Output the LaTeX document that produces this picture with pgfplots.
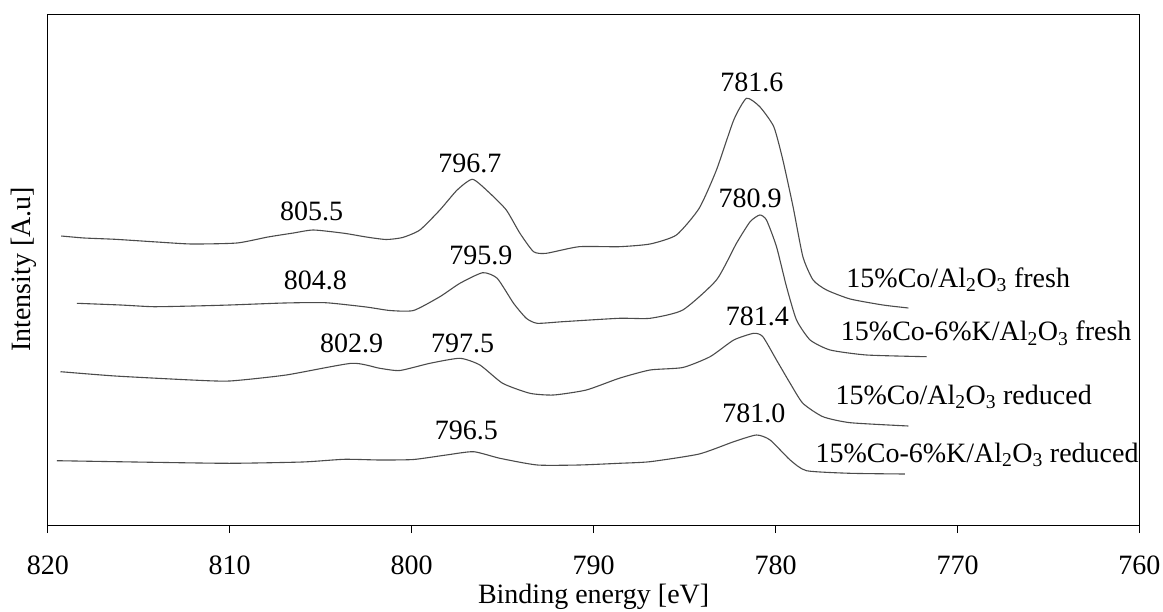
\documentclass[border=0pt]{standalone}
\usepackage{fontspec}
\setmainfont{Liberation Serif}
\usepackage{pgfplots}
\pgfplotsset{compat=1.18}
\newcommand{\bigf}{\fontsize{28pt}{33pt}\selectfont}
\definecolor{curve}{RGB}{75,75,75}
\pgfplotsset{spec/.style={curve, line width=1.1pt, smooth, tension=0.35, mark=none}}
\begin{document}
\begin{tikzpicture}[font=\bigf]
\useasboundingbox (-47.8pt,-86pt) rectangle (1115.2pt,525pt);
\begin{axis}[
  at={(0,0)}, anchor=south west,
  scale only axis, width=1091.7pt, height=511pt,
  xmin=760, xmax=820, x dir=reverse,
  ymin=0, ymax=511,
  xtick={760,770,...,820},
  ytick=\empty,
  tick align=outside, xtick pos=bottom,
  major tick length=8pt,
  /pgf/number format/assume math mode=true,
  xticklabel style={font=\bigf, anchor=center, yshift=-32pt},
  xlabel={Binding energy [eV]},
  ylabel={Intensity [A.u]},
  label style={font=\bigf},
  xlabel style={at={(axis description cs:0.5,-0.141)}, anchor=center},
  ylabel style={at={(axis description cs:-0.022,0.5)}, anchor=center, rotate=0},
  axis line style={black, line width=0.9pt},
  every tick/.style={black, line width=0.9pt},
  clip=false,
  every node/.append style={inner sep=0pt},
]
% 15%Co/Al2O3 fresh
\addplot[spec] coordinates {
(819.26,289) (818,287) (816.3,285.7) (814,283) (812.1,281) (809.6,282) (807.9,288) (806.5,292) (805.4,295) (803.7,291.7) (802.5,288) (801.4,285.5) (800.5,287.5) (799.55,295) (798.45,315) (797.5,335) (796.65,345.7) (795.7,331.7) (794.8,315) (794.05,291.7) (793.3,273.3) (792.6,271.7) (790.8,278.3) (788.6,278.3) (786.9,281) (785.45,290) (784.2,316.7) (783.25,355) (782.3,405) (781.6,426.7) (780.87,418.3) (780.1,398.3) (779.6,365) (779.04,318.3) (778.5,268.3) (777.94,245) (777.2,235) (775.9,226) (774.1,220) (772.7,217)
};
% 15%Co-6%K/Al2O3 fresh
\addplot[spec] coordinates {
(818.4,221.7) (816,220) (814.2,218.3) (812,219) (810,220) (807,222) (804.75,222.3) (802.5,218) (801.2,214.5) (799.9,214.5) (798.45,228.3) (797.35,241.7) (796.1,252.3) (795.3,246.7) (794.4,221.7) (793.7,206.7) (793.1,201.7) (791.7,203.3) (788.6,206.7) (786.9,206.7) (785.1,215) (783.25,245) (782.15,281.7) (781.4,303.3) (780.87,310) (780.5,305) (779.95,278.3) (779.4,238.3) (778.85,205) (778.1,185) (777.0,175) (775.0,170) (771.7,168.3)
};
% 15%Co/Al2O3 reduced
\addplot[spec] coordinates {
(819.3,153.3) (816.3,149) (812.1,145) (810,144) (806.9,150) (803.3,161.7) (801.75,156.7) (800.65,154.5) (799,161.7) (797.35,166.7) (796.25,160) (795,141.7) (793.5,131.7) (792.2,130) (790.4,135) (788.6,146.7) (786.9,155) (785.1,157.5) (783.6,168.3) (782.3,185) (781.2,191.7) (780.7,188.3) (779.95,165) (779.2,141.7) (778.5,121.7) (777.4,108.3) (775.9,102.3) (772.7,99)
};
% 15%Co-6%K/Al2O3 reduced
\addplot[spec] coordinates {
(819.5,64.3) (814.2,62.7) (810,61.7) (806,63) (803.7,65.7) (801.75,65) (799.9,65.5) (798.1,70) (796.6,73.3) (795.15,66.7) (793.1,60) (790.8,60) (788.6,61.7) (786.9,63.3) (784.2,71) (782.3,83.3) (781.05,90) (780.3,85) (779.2,65) (778.3,54.3) (775.9,51.7) (772.9,51)
};
\node[font=\bigf] at (axis cs:781.3,443) {781.6};
\node[font=\bigf] at (axis cs:781.4,327) {780.9};
\node[font=\bigf] at (axis cs:796.8,361.7) {796.7};
\node[font=\bigf] at (axis cs:805.5,313.3) {805.5};
\node[font=\bigf] at (axis cs:796.2,270) {795.9};
\node[font=\bigf] at (axis cs:805.3,245) {804.8};
\node[font=\bigf] at (axis cs:803.3,181.7) {802.9};
\node[font=\bigf] at (axis cs:797.2,181.7) {797.5};
\node[font=\bigf] at (axis cs:781.0,208.3) {781.4};
\node[font=\bigf] at (axis cs:797.0,95) {796.5};
\node[font=\bigf] at (axis cs:781.2,111.7) {781.0};
\node[font=\bigf, anchor=west] at (axis cs:776.3,245) {15\%Co/Al\textsubscript{2}O\textsubscript{3} fresh};
\node[font=\bigf, anchor=west] at (axis cs:776.6,191.7) {15\%Co-6\%K/Al\textsubscript{2}O\textsubscript{3} fresh};
\node[font=\bigf, anchor=west] at (axis cs:776.9,128.3) {15\%Co/Al\textsubscript{2}O\textsubscript{3} reduced};
\node[font=\bigf, anchor=west] at (axis cs:778.0,70) {15\%Co-6\%K/Al\textsubscript{2}O\textsubscript{3} reduced};
\end{axis}
\end{tikzpicture}
\end{document}
